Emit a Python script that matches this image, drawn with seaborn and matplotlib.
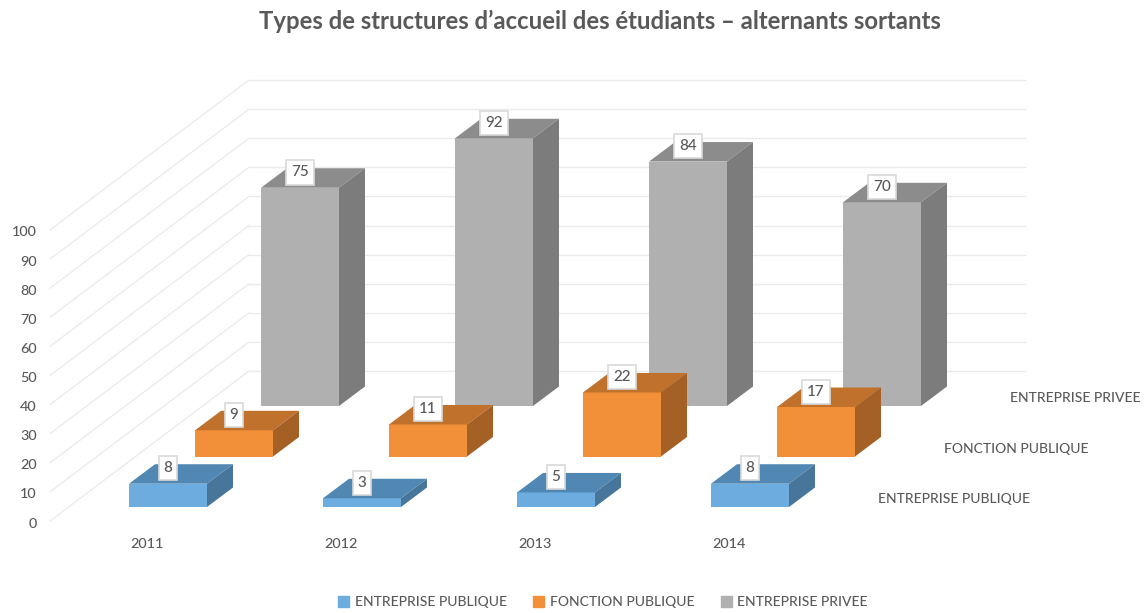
import pandas as pd
import matplotlib.pyplot as plt
from matplotlib.patches import Patch, Polygon
import seaborn as sns

# values
years = ['2011', '2012', '2013', '2014']
entreprise_publique = [8, 3, 5, 8]
fonction_publique = [9, 11, 22, 17]
entreprise_privee = [75, 92, 84, 70]
y_ticks = [0, 10, 20, 30, 40, 50, 60, 70, 80, 90, 100]

# figure layout in pixels
W, H = 1146, 613
CAT_PX = 194
VAL_PX = 2.91
BAR_PX = 78
DEPTH_X = 26
DEPTH_Y = 19.5
TEXT = '#595959'

sns.set_theme(style='white')
plt.rcParams['font.family'] = ['Lato', 'DejaVu Sans']
plt.rcParams['font.weight'] = 'medium'

fig = plt.figure(figsize=(W / 100, H / 100), dpi=100)


def plane_axes(left, base):
    # an axes whose scale is the same for every plane of the fake 3D box
    ax = fig.add_axes([left / W, 1 - base / H, 4 * CAT_PX / W, 100 * VAL_PX / H])
    ax.set_xlim(-0.5, 3.5)
    ax.set_ylim(0, 100)
    ax.patch.set_alpha(0)
    return ax


def draw_row(name, values, left, base, front, top, side):
    ax = plane_axes(left, base)
    df = pd.DataFrame({'year': years, 'value': values})
    sns.barplot(data=df, x='year', y='value', color=front, saturation=1,
                width=BAR_PX / CAT_PX, linewidth=0, errorbar=None, ax=ax)
    ax.set_xlim(-0.5, 3.5)
    ax.set_ylim(0, 100)
    ax.axis('off')

    dx = DEPTH_X / CAT_PX
    dy = DEPTH_Y / VAL_PX
    for bar, value in zip(ax.patches[:len(values)], values):
        x0, x1 = bar.get_x(), bar.get_x() + bar.get_width()
        ax.add_patch(Polygon([(x0, value), (x1, value), (x1 + dx, value + dy), (x0 + dx, value + dy)],
                             facecolor=top, edgecolor='none', clip_on=False))
        ax.add_patch(Polygon([(x1, 0), (x1 + dx, dy), (x1 + dx, value + dy), (x1, value)],
                             facecolor=side, edgecolor='none', clip_on=False))
        ax.annotate(str(value), ((x0 + x1) / 2, value), xytext=(0, 11), textcoords='offset points',
                    ha='center', va='center', fontsize=11, color=TEXT, zorder=5, annotation_clip=False,
                    bbox=dict(boxstyle='square,pad=0.33', facecolor='white', edgecolor='#D9D9D9', linewidth=1.2))

    # depth axis label
    ax.annotate(name, (1, 0), xycoords='axes fraction', xytext=(22.5, 5.5), textcoords='offset points',
                ha='left', va='center', fontsize=10, color=TEXT, annotation_clip=False)


# back wall with its grid, and the diagonal lines on the side wall
wall = plane_axes(249, 371)
wall.axis('off')
for tick in y_ticks:
    wall.plot([-0.5, 3.5], [tick, tick], color='#EBEBEB', lw=1, clip_on=False)
    wall.plot([-0.5 - 199 / CAT_PX, -0.5], [tick - 150 / VAL_PX, tick], color='#EBEBEB', lw=1, clip_on=False)

# front plane only carries the tick labels
front = plane_axes(50, 522.5)
sns.despine(ax=front, left=True, bottom=True, top=True, right=True)
front.set_xticks(range(len(years)), years)
front.set_yticks(y_ticks)
front.tick_params(axis='both', length=0, labelsize=10.4, labelcolor=TEXT)
front.tick_params(axis='y', pad=9.5)
front.tick_params(axis='x', pad=11.5)

draw_row('ENTREPRISE PRIVEE', entreprise_privee, 203, 406, '#B0B0B0', '#8C8C8C', '#7C7C7C')
draw_row('FONCTION PUBLIQUE', fonction_publique, 137, 456.5, '#F29039', '#C0712C', '#A46025')
draw_row('ENTREPRISE PUBLIQUE', entreprise_publique, 71, 507, '#6CACDF', '#5088B3', '#47769A')

fig.text(600 / W, 1 - 21 / H, 'Types de structures d’accueil des étudiants – alternants sortants',
         ha='center', va='center', fontsize=17.2, fontweight='bold', color=TEXT)

handles = [Patch(color='#6CACDF', label='ENTREPRISE PUBLIQUE'),
           Patch(color='#F29039', label='FONCTION PUBLIQUE'),
           Patch(color='#B0B0B0', label='ENTREPRISE PRIVEE')]
fig.legend(handles=handles, loc='center', bbox_to_anchor=(603 / W, 1 - 602 / H), ncol=3, frameon=False,
           fontsize=10, labelcolor=TEXT, handlelength=0.8, handleheight=0.8, handletextpad=0.4, columnspacing=1.9)

fig.savefig('out.png', dpi=100)
